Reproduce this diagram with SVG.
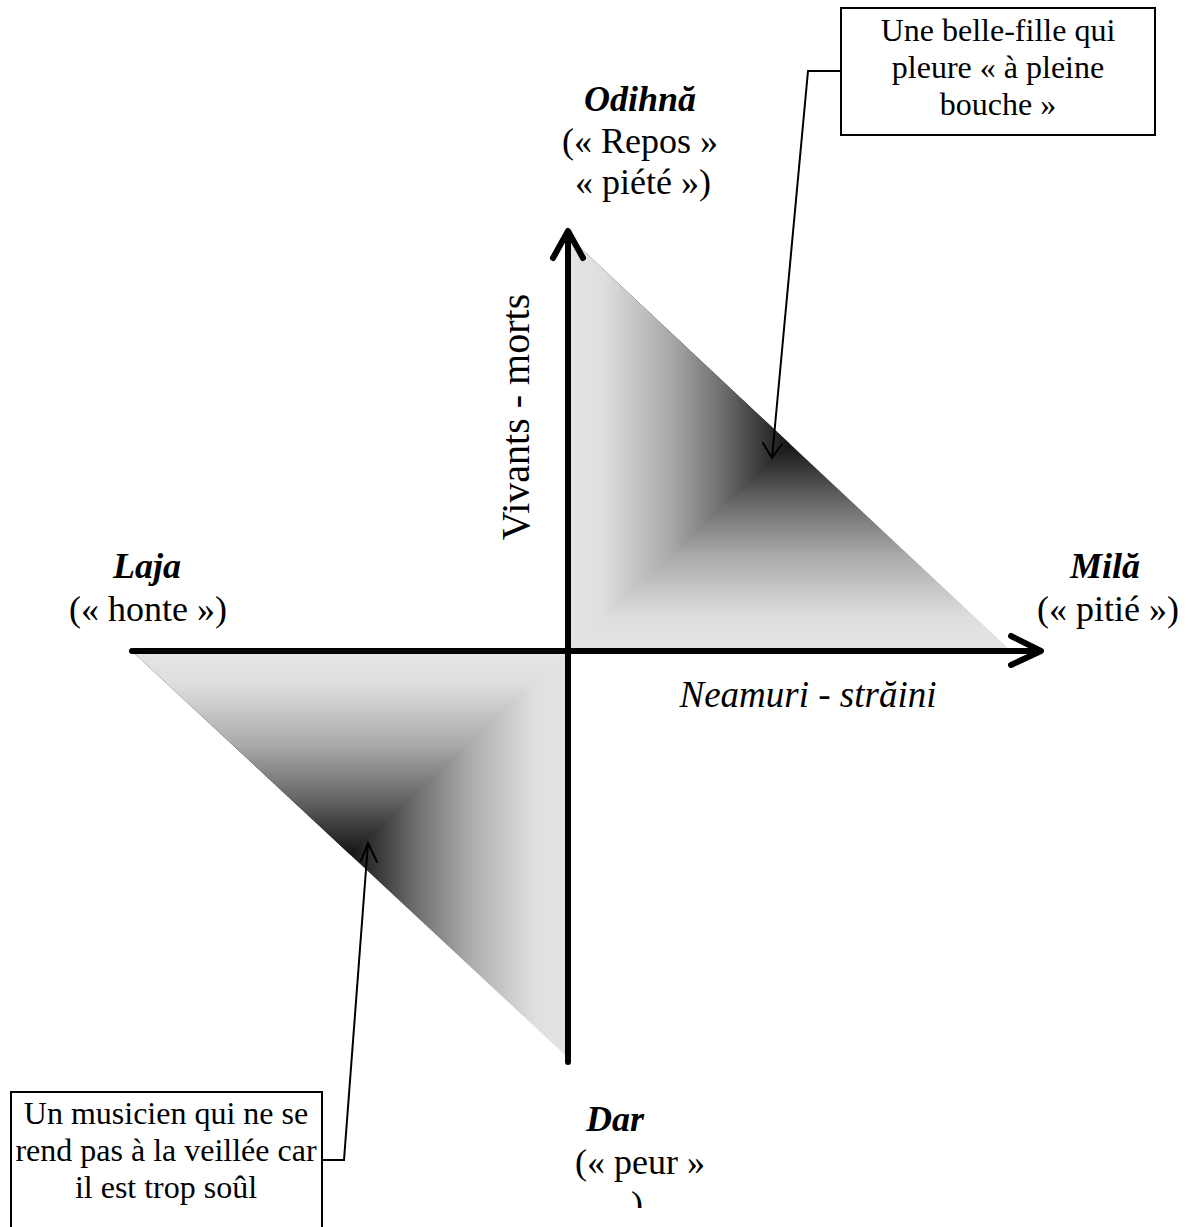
<svg xmlns="http://www.w3.org/2000/svg" width="1191" height="1227" viewBox="0 0 1191 1227">
<style>
.t{font-family:"Liberation Serif","Times New Roman",serif;font-size:36px;fill:#000;text-anchor:middle}
.bi{font-weight:bold;font-style:italic}
.it{font-style:italic}
.bx{font-family:"Liberation Serif","Times New Roman",serif;font-size:32px;fill:#000;text-anchor:middle}
.box{fill:#fff;stroke:#000;stroke-width:2}
.axis{fill:none;stroke:#000;stroke-width:6;stroke-linecap:round;stroke-linejoin:round}
.call{fill:none;stroke:#000;stroke-width:2}
.head{fill:none;stroke:#000;stroke-width:2;stroke-linecap:round}
</style>
<defs>
<linearGradient id="gx1" gradientUnits="userSpaceOnUse" x1="571" y1="0" x2="789.5" y2="0">
<stop offset="0" stop-color="#e4e4e4"/><stop offset="0.15" stop-color="#dedede"/><stop offset="0.45" stop-color="#aaaaaa"/><stop offset="0.7" stop-color="#6c6c6c"/><stop offset="0.86" stop-color="#3c3c3c"/><stop offset="1" stop-color="#151515"/>
</linearGradient>
<linearGradient id="gy1" gradientUnits="userSpaceOnUse" x1="0" y1="648" x2="0" y2="443.5">
<stop offset="0" stop-color="#e4e4e4"/><stop offset="0.15" stop-color="#dedede"/><stop offset="0.45" stop-color="#aaaaaa"/><stop offset="0.7" stop-color="#6c6c6c"/><stop offset="0.86" stop-color="#3c3c3c"/><stop offset="1" stop-color="#151515"/>
</linearGradient>
<linearGradient id="gy2" gradientUnits="userSpaceOnUse" x1="0" y1="654" x2="0" y2="854.5">
<stop offset="0" stop-color="#e4e4e4"/><stop offset="0.15" stop-color="#dedede"/><stop offset="0.45" stop-color="#aaaaaa"/><stop offset="0.7" stop-color="#6c6c6c"/><stop offset="0.86" stop-color="#3c3c3c"/><stop offset="1" stop-color="#151515"/>
</linearGradient>
<linearGradient id="gx2" gradientUnits="userSpaceOnUse" x1="565" y1="0" x2="350" y2="0">
<stop offset="0" stop-color="#e4e4e4"/><stop offset="0.15" stop-color="#dedede"/><stop offset="0.45" stop-color="#aaaaaa"/><stop offset="0.7" stop-color="#6c6c6c"/><stop offset="0.86" stop-color="#3c3c3c"/><stop offset="1" stop-color="#151515"/>
</linearGradient>
<clipPath id="clipDar"><rect x="540" y="1080" width="200" height="128"/></clipPath>
</defs>
<rect width="1191" height="1227" fill="#fff"/>

<g id="triangle-upper">
<polygon points="571,239 571,648 1008,648" fill="url(#gy1)"/>
<polygon points="571,239 789.5,443.5 571,648" fill="url(#gx1)"/>
</g>
<g id="triangle-lower">
<polygon points="135,654 565,654 565,1055" fill="url(#gx2)"/>
<polygon points="135,654 565,654 350,854.5" fill="url(#gy2)"/>
</g>

<g id="axes">
<line class="axis" x1="568" y1="1062" x2="568" y2="232"/>
<polyline class="axis" points="553,258 568,231 583,258"/>
<line class="axis" x1="132" y1="651" x2="1040" y2="651"/>
<polyline class="axis" points="1011,636 1041,651 1011,665"/>
</g>

<g id="label-odihna">
<text class="t bi" x="640" y="111">Odihnă</text>
<text class="t" x="640" y="153">(« Repos »</text>
<text class="t" x="643" y="194">« piété »)</text>
</g>
<g id="label-laja">
<text class="t bi" x="147" y="578">Laja</text>
<text class="t" x="148" y="621">(« honte »)</text>
</g>
<g id="label-mila">
<text class="t bi" x="1105" y="578">Milă</text>
<text class="t" x="1108" y="621">(« pitié »)</text>
</g>
<g id="label-dar">
<text class="t bi" x="615" y="1131">Dar</text>
<text class="t" x="640" y="1174">(« peur »</text>
<text class="t" x="637" y="1216" clip-path="url(#clipDar)">)</text>
</g>
<g id="label-neamuri">
<text class="t it" x="808" y="707" style="font-size:37px">Neamuri - străini</text>
</g>
<g id="label-vivants">
<text class="t" transform="translate(529,417) rotate(-90)" style="font-size:40px">Vivants - morts</text>
</g>

<g id="box-belle-fille">
<rect class="box" x="841" y="8" width="314" height="127"/>
<text class="bx" x="998" y="41">Une belle-fille qui</text>
<text class="bx" x="998" y="78">pleure « à pleine</text>
<text class="bx" x="998" y="115">bouche »</text>
</g>
<g id="box-musicien">
<rect class="box" x="11" y="1092" width="311" height="150"/>
<text class="bx" x="166" y="1124">Un musicien qui ne se</text>
<text class="bx" x="166" y="1161">rend pas à la veillée car</text>
<text class="bx" x="166" y="1198">il est trop soûl</text>
</g>

<g id="connectors">
<polyline class="call" points="841,71 808,71 772,458"/>
<polyline class="head" points="763,443 772,458 782,444"/>
<polyline class="call" points="322,1160 344,1160 368,843"/>
<polyline class="head" points="361,861 368,843 377,862"/>
</g>
</svg>
